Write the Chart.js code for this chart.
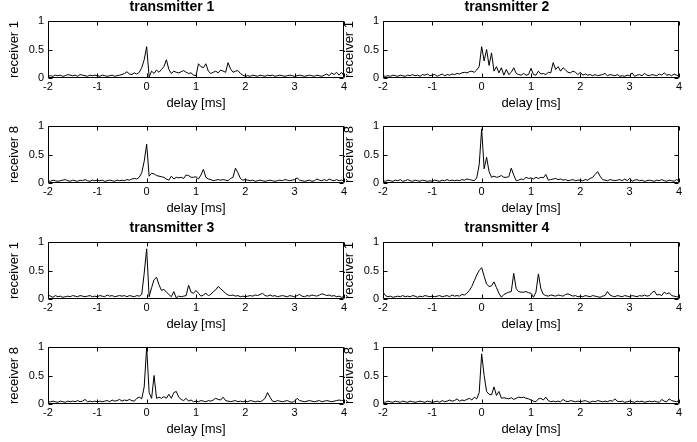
<!DOCTYPE html>
<html>
<head>
<meta charset="utf-8">
<title>transmitter / receiver delay profiles</title>
<script src="https://cdn.jsdelivr.net/npm/chart.js@4.4.1/dist/chart.umd.min.js"></script>
<style>
  html, body { margin: 0; padding: 0; background: #fff; }
  #wrap { position: relative; width: 697px; height: 442px; overflow: hidden; }
  #wrap canvas { position: absolute; }
</style>
</head>
<body>
<div id="wrap"></div>
<script>
// Delay axis shared by every panel [ms]
const delay = [
  -2, -1.95, -1.9, -1.85, -1.8, -1.75, -1.7, -1.65, -1.6, -1.55,
  -1.5, -1.45, -1.4, -1.35, -1.3, -1.25, -1.2, -1.15, -1.1, -1.05,
  -1, -0.95, -0.9, -0.85, -0.8, -0.75, -0.7, -0.65, -0.6, -0.55,
  -0.5, -0.45, -0.4, -0.35, -0.3, -0.25, -0.2, -0.15, -0.1, -0.05,
  0, 0.05, 0.1, 0.15, 0.2, 0.25, 0.3, 0.35, 0.4, 0.45,
  0.5, 0.55, 0.6, 0.65, 0.7, 0.75, 0.8, 0.85, 0.9, 0.95,
  1, 1.05, 1.1, 1.15, 1.2, 1.25, 1.3, 1.35, 1.4, 1.45,
  1.5, 1.55, 1.6, 1.65, 1.7, 1.75, 1.8, 1.85, 1.9, 1.95,
  2, 2.05, 2.1, 2.15, 2.2, 2.25, 2.3, 2.35, 2.4, 2.45,
  2.5, 2.55, 2.6, 2.65, 2.7, 2.75, 2.8, 2.85, 2.9, 2.95,
  3, 3.05, 3.1, 3.15, 3.2, 3.25, 3.3, 3.35, 3.4, 3.45,
  3.5, 3.55, 3.6, 3.65, 3.7, 3.75, 3.8, 3.85, 3.9, 3.95,
  4
];

const xTicks = [-2, -1, 0, 1, 2, 3, 4];
const yTicks = [0, 0.5, 1];

// transmitter 1
const tx1rx1 = [
  0.03, 0.04, 0.03, 0.05, 0.04, 0.05, 0.03, 0.04, 0.06, 0.05,
  0.04, 0.05, 0.03, 0.06, 0.05, 0.04, 0.03, 0.05, 0.04, 0.05,
  0.04, 0.03, 0.05, 0.04, 0.03, 0.04, 0.05, 0.03, 0.04, 0.05,
  0.06, 0.08, 0.11, 0.07, 0.06, 0.09, 0.07, 0.1, 0.18, 0.32,
  0.55, 0.02, 0.12, 0.08, 0.14, 0.1, 0.15, 0.2, 0.32, 0.15,
  0.08, 0.12, 0.1, 0.09, 0.11, 0.13, 0.1, 0.08, 0.09, 0.05,
  0.04, 0.25, 0.2, 0.18, 0.25, 0.12, 0.08, 0.1, 0.12, 0.09,
  0.14, 0.12, 0.1, 0.27, 0.16, 0.1, 0.12, 0.13, 0.08, 0.05,
  0.03, 0.04, 0.03, 0.05, 0.04, 0.03, 0.05, 0.04, 0.03, 0.05,
  0.04, 0.05, 0.03, 0.04, 0.05, 0.04, 0.03, 0.04, 0.05, 0.04,
  0.03, 0.04, 0.05, 0.04, 0.03, 0.04, 0.05, 0.04, 0.03, 0.05,
  0.04, 0.03, 0.05, 0.07, 0.04, 0.09, 0.06, 0.1, 0.05, 0.1,
  0.04
];
const tx1rx8 = [
  0.04, 0.03, 0.05, 0.04, 0.03, 0.04, 0.05, 0.06, 0.04, 0.03,
  0.05, 0.04, 0.03, 0.05, 0.04, 0.06, 0.04, 0.03, 0.05, 0.04,
  0.05, 0.04, 0.05, 0.03, 0.04, 0.05, 0.04, 0.03, 0.05, 0.04,
  0.05, 0.04, 0.06, 0.05, 0.07, 0.08, 0.07, 0.1, 0.18, 0.38,
  0.68, 0.12, 0.17, 0.16, 0.13, 0.12, 0.11, 0.1, 0.07, 0.05,
  0.12, 0.07, 0.1, 0.09, 0.1, 0.08, 0.14, 0.13, 0.1, 0.1,
  0.11, 0.07, 0.14, 0.24, 0.1, 0.07, 0.06, 0.04, 0.05, 0.06,
  0.05, 0.06, 0.05, 0.04, 0.08, 0.1, 0.26, 0.18, 0.08, 0.05,
  0.06, 0.05, 0.04, 0.05, 0.03, 0.04, 0.05, 0.04, 0.03, 0.04,
  0.05, 0.04, 0.03, 0.04, 0.05, 0.04, 0.06, 0.05, 0.04, 0.05,
  0.06, 0.09, 0.05, 0.04, 0.03, 0.04, 0.05, 0.03, 0.04, 0.07,
  0.05, 0.04, 0.06, 0.04, 0.07, 0.05, 0.04, 0.06, 0.04, 0.05,
  0.04
];

// transmitter 2
const tx2rx1 = [
  0.04, 0.03, 0.04, 0.03, 0.05, 0.04, 0.03, 0.05, 0.04, 0.03,
  0.05, 0.04, 0.06, 0.04, 0.05, 0.03, 0.06, 0.05, 0.07, 0.04,
  0.05, 0.06, 0.03, 0.05, 0.07, 0.04, 0.06, 0.05, 0.07, 0.06,
  0.08, 0.07, 0.09, 0.1, 0.09, 0.11, 0.12, 0.1, 0.14, 0.2,
  0.55, 0.3, 0.5, 0.22, 0.44, 0.12, 0.2, 0.09, 0.18, 0.05,
  0.15, 0.06, 0.1, 0.18, 0.08, 0.06, 0.05, 0.08, 0.05, 0.06,
  0.17, 0.06, 0.05, 0.12, 0.07, 0.08, 0.06, 0.1, 0.09, 0.27,
  0.15, 0.2, 0.12, 0.18, 0.14, 0.1, 0.09, 0.12, 0.1, 0.06,
  0.1, 0.05, 0.07, 0.05, 0.06, 0.04, 0.06, 0.04, 0.05, 0.06,
  0.08, 0.04, 0.06, 0.05, 0.04, 0.06, 0.03, 0.04, 0.03, 0.05,
  0.04, 0.09, 0.03, 0.05, 0.06, 0.04, 0.08, 0.05, 0.04, 0.06,
  0.05, 0.04, 0.07, 0.05, 0.09, 0.05, 0.06, 0.04, 0.07, 0.05,
  0.03
];
const tx2rx8 = [
  0.04, 0.03, 0.05, 0.04, 0.03, 0.05, 0.04, 0.06, 0.03, 0.04,
  0.06, 0.04, 0.03, 0.05, 0.04, 0.03, 0.05, 0.04, 0.03, 0.04,
  0.03, 0.05, 0.04, 0.03, 0.05, 0.04, 0.06, 0.04, 0.05, 0.04,
  0.05, 0.04, 0.06, 0.05, 0.07, 0.06, 0.05, 0.04, 0.09, 0.32,
  0.95, 0.25, 0.45, 0.2, 0.1, 0.12, 0.1, 0.11, 0.13, 0.1,
  0.1, 0.11, 0.26, 0.14, 0.04, 0.05, 0.07, 0.06, 0.1, 0.08,
  0.09, 0.07, 0.1, 0.08, 0.1, 0.09, 0.15, 0.05, 0.06, 0.07,
  0.08, 0.06, 0.07, 0.05, 0.06, 0.04, 0.05, 0.06, 0.04, 0.05,
  0.05, 0.04, 0.06, 0.05, 0.08, 0.1, 0.15, 0.2, 0.12, 0.06,
  0.05, 0.04, 0.06, 0.05, 0.04, 0.05, 0.06, 0.04, 0.07, 0.04,
  0.08, 0.03, 0.05, 0.06, 0.04, 0.05, 0.03, 0.04, 0.05, 0.04,
  0.03, 0.05, 0.04, 0.06, 0.04, 0.03, 0.05, 0.04, 0.03, 0.06,
  0.04
];

// transmitter 3
const tx3rx1 = [
  0.07, 0.05, 0.03, 0.06, 0.04, 0.05, 0.03, 0.04, 0.05, 0.04,
  0.06, 0.05, 0.04, 0.06, 0.05, 0.04, 0.05, 0.06, 0.04, 0.05,
  0.04, 0.06, 0.05, 0.04, 0.07, 0.05, 0.06, 0.04, 0.05, 0.06,
  0.05, 0.06, 0.04, 0.06, 0.05, 0.04, 0.06, 0.05, 0.08, 0.45,
  0.88, 0.04, 0.2, 0.34, 0.38, 0.25, 0.15, 0.17, 0.12, 0.08,
  0.04, 0.13, 0.02, 0.05, 0.04, 0.05, 0.06, 0.24, 0.12, 0.1,
  0.15, 0.1, 0.05, 0.07, 0.1, 0.06, 0.08, 0.13, 0.16, 0.22,
  0.18, 0.14, 0.1, 0.07, 0.06, 0.07, 0.05, 0.06, 0.04, 0.05,
  0.04, 0.05, 0.06, 0.05, 0.07, 0.06, 0.08, 0.1, 0.06, 0.05,
  0.07, 0.05, 0.06, 0.04, 0.05, 0.06, 0.05, 0.04, 0.06, 0.05,
  0.04, 0.06, 0.08, 0.05, 0.04, 0.06, 0.05, 0.07, 0.06, 0.05,
  0.07, 0.09, 0.08, 0.06, 0.07, 0.05, 0.06, 0.04, 0.05, 0.03,
  0.04
];
const tx3rx8 = [
  0.03, 0.04, 0.05, 0.04, 0.03, 0.05, 0.04, 0.03, 0.05, 0.04,
  0.05, 0.04, 0.06, 0.04, 0.05, 0.08, 0.04, 0.05, 0.04, 0.05,
  0.04, 0.05, 0.04, 0.05, 0.06, 0.04, 0.07, 0.05, 0.06, 0.08,
  0.05, 0.07, 0.06, 0.08, 0.06, 0.05, 0.1, 0.12, 0.09, 0.3,
  1.0, 0.2, 0.1, 0.5, 0.1, 0.12, 0.1, 0.13, 0.1, 0.17,
  0.1, 0.2, 0.22, 0.12, 0.08, 0.06, 0.1, 0.05, 0.07, 0.04,
  0.05, 0.04, 0.06, 0.05, 0.04, 0.06, 0.05, 0.07, 0.1, 0.08,
  0.07, 0.12, 0.06, 0.05, 0.04, 0.05, 0.06, 0.04, 0.05, 0.04,
  0.05, 0.04, 0.06, 0.05, 0.04, 0.05, 0.04, 0.06, 0.1, 0.2,
  0.12, 0.05, 0.04, 0.06, 0.05, 0.04, 0.05, 0.06, 0.04, 0.03,
  0.05, 0.1, 0.06, 0.05, 0.04, 0.05, 0.06, 0.05, 0.04, 0.05,
  0.06, 0.04, 0.05, 0.06, 0.05, 0.04, 0.05, 0.06, 0.07, 0.06,
  0.07
];

// transmitter 4
const tx4rx1 = [
  0.12, 0.06, 0.04, 0.05, 0.03, 0.04, 0.05, 0.04, 0.06, 0.04,
  0.05, 0.04, 0.06, 0.05, 0.03, 0.05, 0.04, 0.06, 0.05, 0.04,
  0.05, 0.04, 0.05, 0.06, 0.04, 0.05, 0.06, 0.04, 0.07, 0.05,
  0.06, 0.05, 0.08, 0.07, 0.1, 0.15, 0.22, 0.32, 0.42, 0.5,
  0.55, 0.4, 0.26, 0.22, 0.23, 0.3, 0.2, 0.1, 0.03, 0.08,
  0.1, 0.12, 0.13, 0.45, 0.18, 0.13, 0.12, 0.12, 0.13, 0.11,
  0.1, 0.03, 0.12, 0.44, 0.18, 0.08, 0.06, 0.05, 0.07, 0.06,
  0.05, 0.07, 0.06, 0.05, 0.08, 0.09, 0.07, 0.05, 0.06, 0.04,
  0.05, 0.04, 0.06, 0.05, 0.04, 0.06, 0.05, 0.04, 0.03, 0.05,
  0.06, 0.13, 0.07, 0.05, 0.04, 0.06, 0.05, 0.04, 0.06, 0.05,
  0.04, 0.06, 0.05, 0.04, 0.06, 0.05, 0.07, 0.05, 0.06, 0.11,
  0.14, 0.07, 0.08, 0.06, 0.12, 0.09, 0.11, 0.06, 0.05, 0.04,
  0.03
];
const tx4rx8 = [
  0.04, 0.03, 0.05, 0.04, 0.03, 0.05, 0.04, 0.03, 0.05, 0.04,
  0.03, 0.05, 0.04, 0.03, 0.04, 0.05, 0.04, 0.03, 0.05, 0.04,
  0.03, 0.04, 0.05, 0.03, 0.06, 0.04, 0.05, 0.07, 0.05, 0.06,
  0.09, 0.05, 0.07, 0.06, 0.08, 0.1, 0.07, 0.12, 0.09, 0.2,
  0.88, 0.5, 0.22, 0.17, 0.16, 0.3, 0.15, 0.22, 0.1, 0.11,
  0.1, 0.09, 0.11, 0.08, 0.1, 0.12, 0.11, 0.12, 0.1, 0.09,
  0.07, 0.05, 0.04, 0.09, 0.1, 0.07, 0.12, 0.06, 0.04, 0.05,
  0.04, 0.05, 0.04, 0.08, 0.05, 0.04, 0.06, 0.05, 0.04, 0.05,
  0.04, 0.05, 0.06, 0.04, 0.03, 0.05, 0.04, 0.06, 0.05, 0.04,
  0.05, 0.04, 0.06, 0.05, 0.09, 0.05, 0.04, 0.05, 0.03, 0.04,
  0.05, 0.04, 0.03, 0.05, 0.04, 0.05, 0.03, 0.04, 0.05, 0.04,
  0.05, 0.04, 0.03, 0.08, 0.05, 0.04, 0.09, 0.06, 0.05, 0.04,
  0.06
];

const FONT = '"Liberation Sans", Arial, Helvetica, sans-serif';

// Panel layout: plot-area left edge per column, plot-area top per row
const colLeft = [48, 383];
const rowTop = [21, 126, 242, 347];
const PLOT_W = 296;
const PLOT_H = 57;
const Y_AXIS_W = 48;
const X_AXIS_H = 33;
const TOP_SPACE = 22;
const RIGHT_PAD = 6;

const panels = [
  { row: 0, col: 0, title: 'transmitter 1', ylabel: 'receiver 1', data: tx1rx1 },
  { row: 1, col: 0, title: null, ylabel: 'receiver 8', data: tx1rx8 },
  { row: 0, col: 1, title: 'transmitter 2', ylabel: 'receiver 1', data: tx2rx1 },
  { row: 1, col: 1, title: null, ylabel: 'receiver 8', data: tx2rx8 },
  { row: 2, col: 0, title: 'transmitter 3', ylabel: 'receiver 1', data: tx3rx1 },
  { row: 3, col: 0, title: null, ylabel: 'receiver 8', data: tx3rx8 },
  { row: 2, col: 1, title: 'transmitter 4', ylabel: 'receiver 1', data: tx4rx1 },
  { row: 3, col: 1, title: null, ylabel: 'receiver 8', data: tx4rx8 }
];

// MATLAB style box around the axes with inward tick marks
const matlabBox = {
  id: 'matlabBox',
  afterDraw(chart) {
    const ctx = chart.ctx;
    const a = chart.chartArea;
    const x = chart.scales.x;
    const y = chart.scales.y;
    const l = Math.round(a.left) + 0.5;
    const r = Math.round(a.right) - 0.5;
    const t = Math.round(a.top) + 0.5;
    const b = Math.round(a.bottom) - 0.5;
    const len = 4;
    ctx.save();
    ctx.strokeStyle = '#000';
    ctx.lineWidth = 1;
    ctx.beginPath();
    ctx.rect(l, t, r - l, b - t);
    xTicks.forEach(v => {
      const px = Math.round(x.getPixelForValue(v)) + 0.5;
      ctx.moveTo(px, b);
      ctx.lineTo(px, b - len);
      ctx.moveTo(px, t);
      ctx.lineTo(px, t + len);
    });
    yTicks.forEach(v => {
      const py = Math.round(y.getPixelForValue(v)) + 0.5;
      ctx.moveTo(l, py);
      ctx.lineTo(l + len, py);
      ctx.moveTo(r, py);
      ctx.lineTo(r - len, py);
    });
    ctx.stroke();
    ctx.restore();
  }
};

function makePanel(p) {
  const canvas = document.createElement('canvas');
  const w = Y_AXIS_W + PLOT_W + RIGHT_PAD;
  const h = TOP_SPACE + PLOT_H + X_AXIS_H;
  canvas.width = w;
  canvas.height = h;
  canvas.style.width = w + 'px';
  canvas.style.height = h + 'px';
  canvas.style.left = (colLeft[p.col] - Y_AXIS_W) + 'px';
  canvas.style.top = (rowTop[p.row] - TOP_SPACE) + 'px';
  document.getElementById('wrap').appendChild(canvas);

  const points = delay.map((d, i) => ({ x: d, y: p.data[i] }));

  return new Chart(canvas.getContext('2d'), {
    type: 'line',
    data: {
      datasets: [{
        data: points,
        borderColor: '#000',
        borderWidth: 1,
        pointRadius: 0,
        tension: 0,
        fill: false
      }]
    },
    options: {
      responsive: false,
      animation: false,
      devicePixelRatio: 1,
      layout: {
        padding: { top: p.title ? 0 : TOP_SPACE, right: RIGHT_PAD, bottom: 0, left: 0 }
      },
      plugins: {
        legend: { display: false },
        tooltip: { enabled: false },
        title: {
          display: !!p.title,
          text: p.title || '',
          color: '#000',
          font: { family: FONT, size: 14, weight: 'bold', lineHeight: 1.2 },
          padding: { top: 0, bottom: TOP_SPACE - 16.8 }
        }
      },
      scales: {
        x: {
          type: 'linear',
          min: -2,
          max: 4,
          afterBuildTicks: scale => { scale.ticks = xTicks.map(v => ({ value: v })); },
          afterFit: scale => { scale.height = X_AXIS_H; },
          grid: { display: false, drawTicks: false },
          border: { display: false },
          ticks: {
            color: '#000', padding: 2, maxRotation: 0,
            font: { family: FONT, size: 11 },
            callback: v => String(v)
          },
          title: {
            display: true,
            text: 'delay [ms]',
            color: '#000',
            padding: 0,
            font: { family: FONT, size: 13 }
          }
        },
        y: {
          type: 'linear',
          min: 0,
          max: 1,
          afterBuildTicks: scale => { scale.ticks = yTicks.map(v => ({ value: v })); },
          afterFit: scale => { scale.width = Y_AXIS_W; },
          grid: { display: false, drawTicks: false },
          border: { display: false },
          ticks: {
            color: '#000', padding: 4,
            font: { family: FONT, size: 11 },
            callback: v => String(v)
          },
          title: {
            display: true,
            text: p.ylabel,
            color: '#000',
            padding: { top: 7, bottom: 0 },
            font: { family: FONT, size: 13 }
          }
        }
      }
    },
    plugins: [matlabBox]
  });
}

panels.forEach(makePanel);
</script>
</body>
</html>
